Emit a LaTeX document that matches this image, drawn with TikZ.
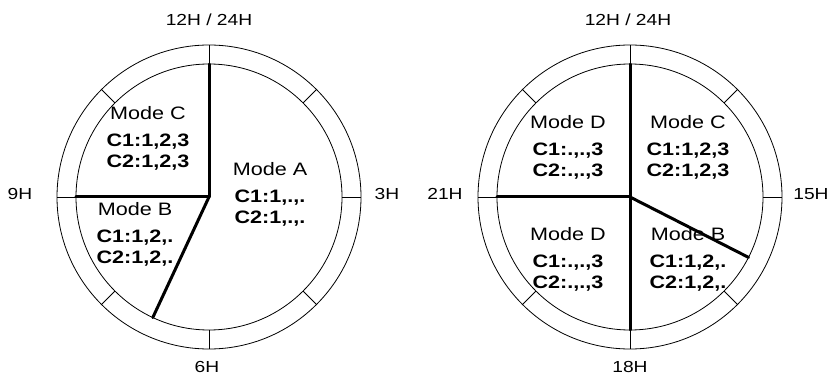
\documentclass[tikz,border=0pt]{standalone}
\usepackage{fontspec}
\setmainfont{Liberation Sans}[FakeStretch=1.2]
\usetikzlibrary{calc}
\tikzset{
  ring/.style={line width=0.8pt},
  split/.style={line width=3pt,line cap=round},
  hourlabel/.style={font=\fontsize{16}{20}\selectfont},
  modetext/.style={align=center,font=\fontsize{18}{21}\selectfont}
}

\begin{document}
\begin{tikzpicture}[x=1pt,y=1pt]

\useasboundingbox (0,0) rectangle (830,378);

%Centres of the two clock faces
	\coordinate (left) at (209,181);
	\coordinate (right) at (630,181);

%Draw the two rings with inner radius 133 and outer radius 152
	\foreach \face in {left,right}
		{
		\draw [ring] (\face) circle (133);
		\draw [ring] (\face) circle (152);

%The foreach command draws the 8 ticks across each ring
		\foreach \angle in {0,45,...,315}
			\draw [ring] ($(\face)+(\angle:133)$) -- ($(\face)+(\angle:152)$);
		}

%Hour labels of the left face
	\node [hourlabel] (l12) at (209,358) {12H / 24H};
	\node [hourlabel] (l9) at (20,184) {9H};
	\node [hourlabel] (l3) at (387,184) {3H};
	\node [hourlabel] (l6) at (207,11) {6H};

%Hour labels of the right face
	\node [hourlabel] (r24) at (628,358) {12H / 24H};
	\node [hourlabel] (r21) at (445,184) {21H};
	\node [hourlabel] (r15) at (811,184) {15H};
	\node [hourlabel] (r18) at (630,11) {18H};

%Mode texts of the left face
	\node [modetext] (lmodeC) at (148,240) {Mode C\\[6pt] \textbf{C1:1,2,3}\\ \textbf{C2:1,2,3}};
	\node [modetext] (lmodeA) at (270,184) {Mode A\\[6pt] \textbf{C1:1,.,.}\\ \textbf{C2:1,.,.}};
	\node [modetext] (lmodeB) at (135,144) {Mode B\\[6pt] \textbf{C1:1,2,.}\\ \textbf{C2:1,2,.}};

%Mode texts of the right face
	\node [modetext] (rmodeD1) at (568,231) {Mode D\\[6pt] \textbf{C1:.,.,3}\\ \textbf{C2:.,.,3}};
	\node [modetext] (rmodeC) at (688,231) {Mode C\\[6pt] \textbf{C1:1,2,3}\\ \textbf{C2:1,2,3}};
	\node [modetext] (rmodeD2) at (568,119) {Mode D\\[6pt] \textbf{C1:.,.,3}\\ \textbf{C2:.,.,3}};
	\node [modetext] (rmodeB) at (688,119) {Mode B\\[6pt] \textbf{C1:1,2,.}\\ \textbf{C2:1,2,.}};

%Thick lines splitting the left face into the three modes
	\foreach \angle in {90,180,245}
		\draw [split] (left) -- ($(left)+(\angle:133)$);

%Thick lines splitting the right face into the four modes
	\foreach \angle in {90,180,270,-27}
		\draw [split] (right) -- ($(right)+(\angle:133)$);

\end{tikzpicture}
\end{document}
